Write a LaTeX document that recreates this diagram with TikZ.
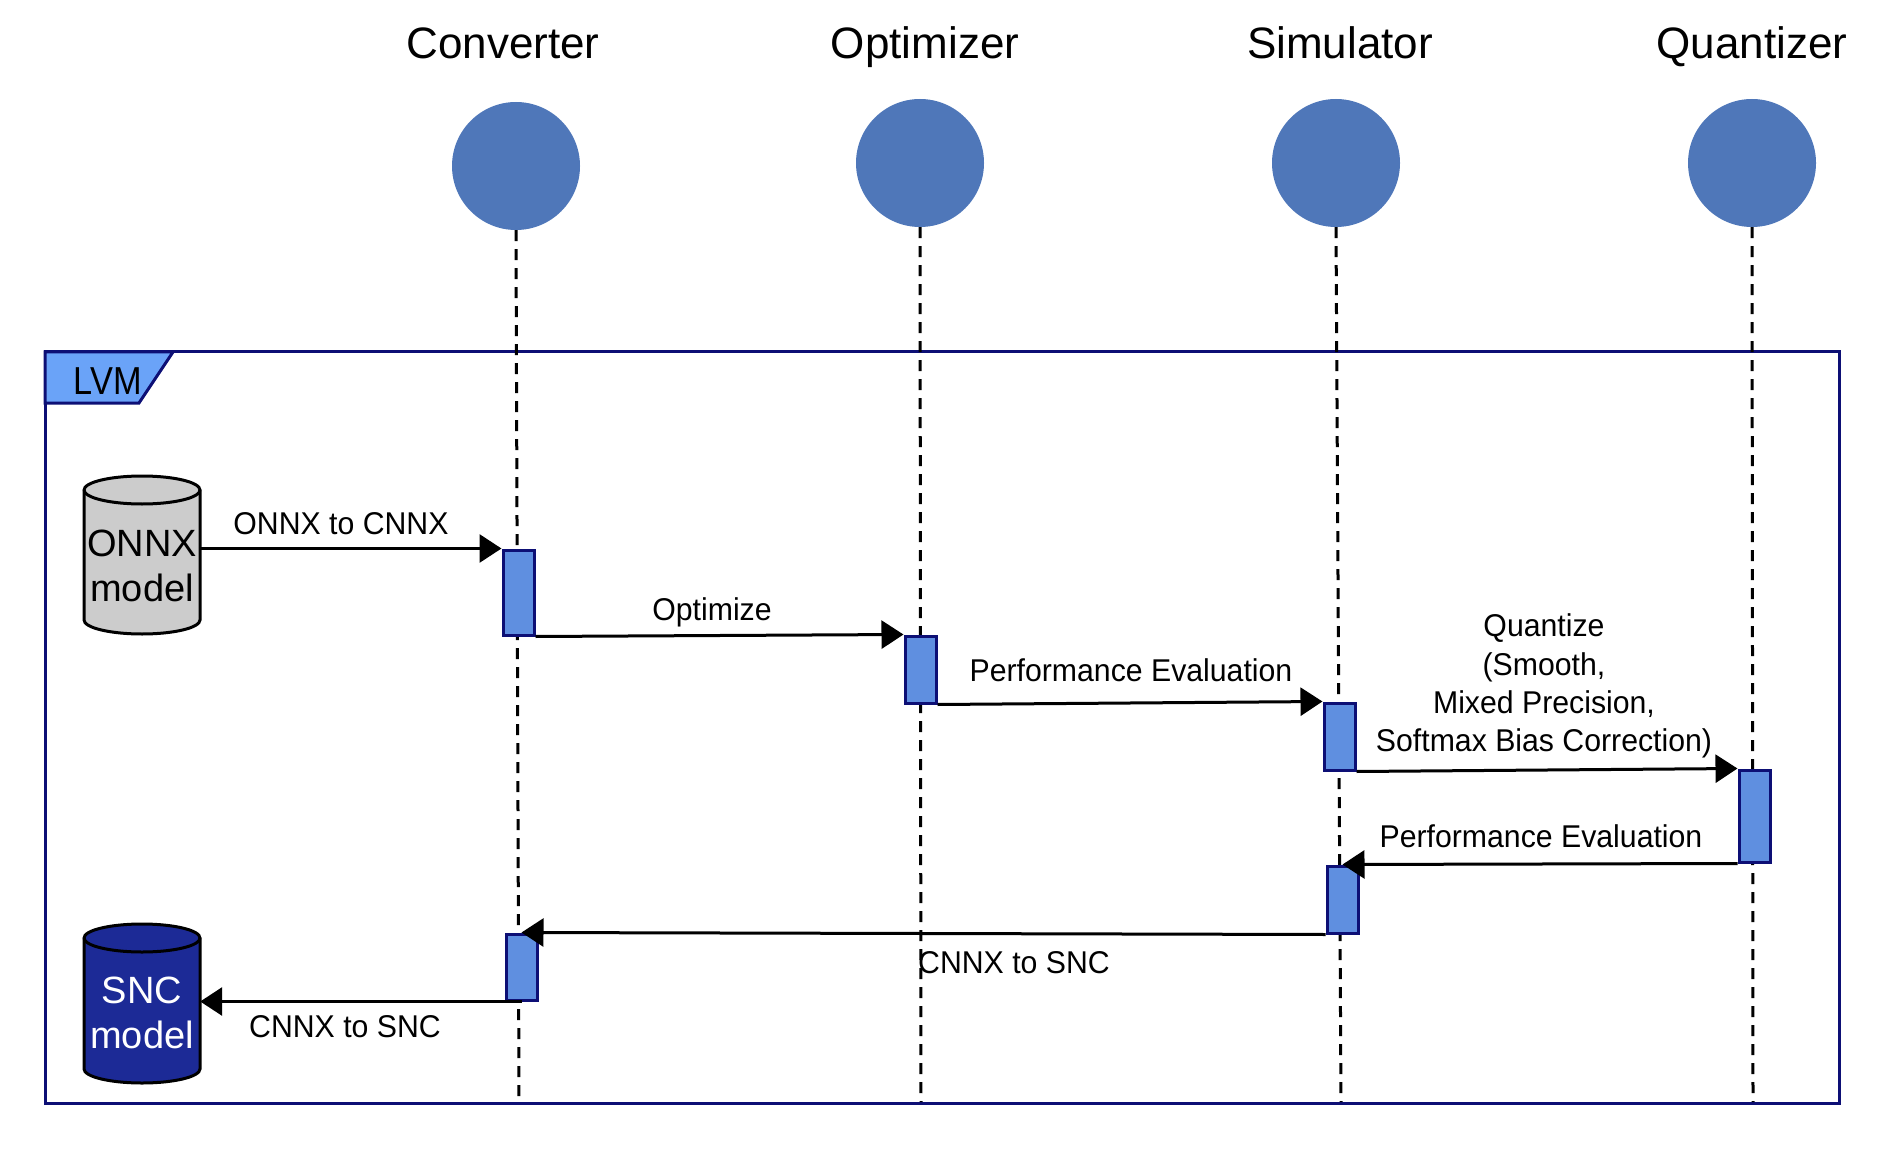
\documentclass[tikz,border=0pt]{standalone}
\usepackage{fontspec}
\setmainfont{Liberation Sans}
\newfontfamily\lblfont{Liberation Sans}[FakeStretch=0.96]
\newfontfamily\tabfont{Liberation Sans}[FakeStretch=0.88]
\usetikzlibrary{arrows.meta,calc}
\definecolor{lifeblue}{HTML}{4F77B9}
\definecolor{actfill}{HTML}{5F8FE0}
\definecolor{navyline}{HTML}{0D0F75}
\definecolor{tabfill}{HTML}{6AA3F8}
\definecolor{sncfill}{HTML}{1C2A96}
\definecolor{onnxfill}{HTML}{CCCCCC}
\begin{document}
\begin{tikzpicture}[x=1pt,y=-1pt,
  title/.style={font=\fontsize{44}{53}\selectfont, anchor=base, inner sep=0pt},
  actor/.style={circle, fill=lifeblue, minimum size=128pt, inner sep=0pt},
  lifeline/.style={line width=3pt, dash pattern=on 11pt off 8pt},
  act/.style={draw=navyline, fill=actfill, line width=3pt, minimum width=31pt, inner sep=0pt, anchor=north west},
  msg/.style={line width=3pt, -{Triangle[length=22pt,width=28pt]}},
  lbl/.style={font=\lblfont\fontsize{31.5}{38.3}\selectfont, inner sep=0pt, anchor=base},
  cylbox/.style={minimum width=116pt, minimum height=158pt, inner sep=0pt},
  cyltext/.style={font=\fontsize{38}{45}\selectfont, align=center, inner sep=0pt},
  cylline/.style={line width=3pt, draw=black}
]
\useasboundingbox (0,0) rectangle (1896,1150);

% frame
\draw[navyline, line width=3pt] (45,352) rectangle (1839,1103);
\draw[navyline, fill=tabfill, line width=3pt] (45,352) -- (173,352) -- (139,403) -- (45,403) -- cycle;
\node[font=\tabfont\fontsize{39}{46}\selectfont, anchor=base, inner sep=0pt] (lvm) at (108,394) {LVM};

% titles
\node[title] (tconv) at (503,59) {Converter};
\node[title] (topt) at (925,59) {Optimizer};
\node[title] (tsim) at (1340,59) {Simulator};
\node[title] (tquant) at (1752,59) {Quantizer};

% actors
\node[actor] (conv) at (516,166) {};
\node[actor] (opt) at (920,163) {};
\node[actor] (sim) at (1336,163) {};
\node[actor] (quant) at (1752,163) {};

\coordinate (convend) at (519,1102);
\coordinate (optend) at (921,1102);
\coordinate (simend) at (1341,1102);
\coordinate (quantend) at (1753,1102);

\draw[lifeline] (conv.south) -- (convend);
\draw[lifeline] (opt.south) -- (optend);
\draw[lifeline] (sim.south) -- (simend);
\draw[lifeline] (quant.south) -- (quantend);

% cylinders
\node[cylbox] (onnx) at (142,555) {};
\draw[cylline, fill=onnxfill] (84,490) -- (84,620) arc[start angle=180, end angle=0, x radius=58, y radius=14] -- (200,490) arc[start angle=0, end angle=-180, x radius=58, y radius=14] -- cycle;
\draw[cylline] (84,490) arc[start angle=180, end angle=0, x radius=58, y radius=14];
\node[cyltext] (onnxlabel) at (142,566) {ONNX\\model};

\node[cylbox] (snc) at (142,1003.5) {};
\draw[cylline, fill=sncfill] (84,938) -- (84,1069) arc[start angle=180, end angle=0, x radius=58, y radius=14] -- (200,938) arc[start angle=0, end angle=-180, x radius=58, y radius=14] -- cycle;
\draw[cylline] (84,938) arc[start angle=180, end angle=0, x radius=58, y radius=14];
\node[cyltext, text=white] (snclabel) at (142,1013) {SNC\\model};

% activations
\node[act, minimum height=85pt] (b1) at (501.5,548.5) {};
\node[act, minimum height=67pt] (b2) at (903.5,634.5) {};
\node[act, minimum height=67pt] (b3) at (1322.5,701.5) {};
\node[act, minimum height=92pt] (b4) at (1737.5,768.5) {};
\node[act, minimum height=67pt] (b5) at (1325.5,864.5) {};
\node[act, minimum height=66pt] (b6) at (504.5,932.5) {};

% messages
\draw[msg] (onnx.east |- b1.north west) -- (b1.north west);
\draw[msg] (b1.south east) -- (b2.north west);
\draw[msg] (b2.south east) -- (b3.north west);
\draw[msg] (b3.south east) -- (b4.north west);
\draw[msg] (b4.south west) -- (b5.north);
\draw[msg] (b5.south west) -- (b6.north);
\draw[msg] (b6.south) -- (snc.east |- b6.south);

% labels
\node[lbl] (l1) at (341,534) {ONNX to CNNX};
\node[lbl] (l2) at (712,620) {Optimize};
\node[lbl] (l3) at (1131,681) {Performance Evaluation};
\node[lbl, anchor=center, align=center] (l4) at (1544,686) {Quantize\\(Smooth,\\Mixed Precision,\\Softmax Bias Correction)};
\node[lbl] (l5) at (1541,847) {Performance Evaluation};
\node[lbl] (l6) at (1014,973) {CNNX to SNC};
\node[lbl] (l7) at (345,1037) {CNNX to SNC};
\end{tikzpicture}
\end{document}
